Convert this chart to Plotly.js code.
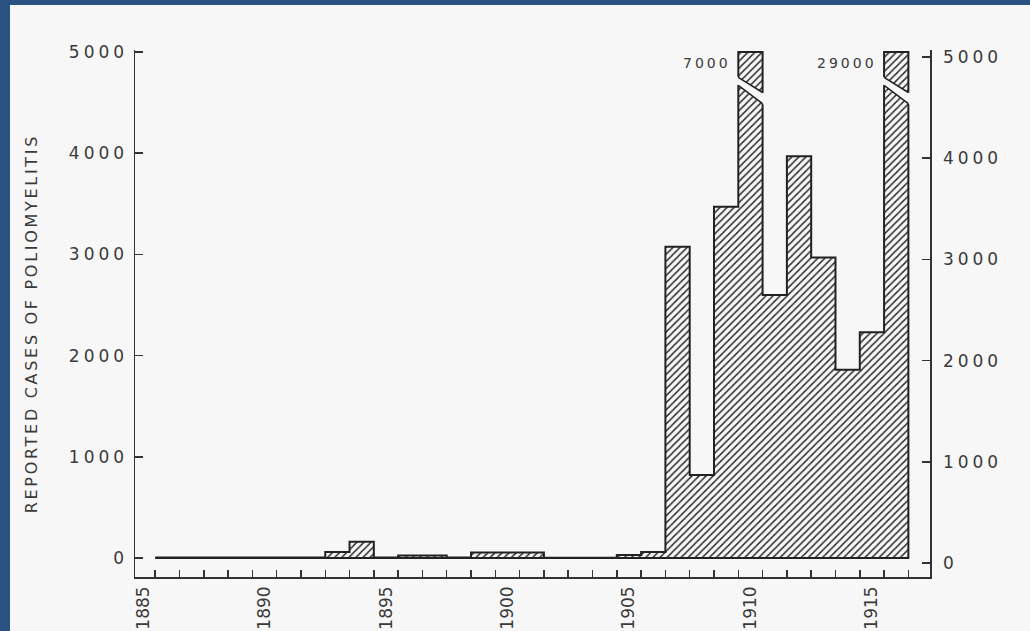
<!DOCTYPE html>
<html><head><meta charset="utf-8">
<script src="https://cdn.plot.ly/plotly-3.0.1.min.js"></script>
<style>
html,body{margin:0;padding:0;width:1030px;height:631px;overflow:hidden;background:#2b5382;}
#chart{position:absolute;left:10px;top:5px;width:1020px;height:626px;background:#f7f7f7;}
.ytick text, .y2tick text{letter-spacing:4px;}
.annotation-text{letter-spacing:3px;}
.annotation[data-index="0"] .annotation-text{letter-spacing:2.7px;}
</style></head><body><div id="chart"></div>
<script>
// ---- data ----
const years = [1886,1887,1888,1889,1890,1891,1892,1893,1894,1895,1896,1897,1898,1899,1900,1901,1902,1903,1904,1905,1906,1907,1908,1909,1910,1911,1912,1913,1914,1915,1916];
const cases = [5,5,5,5,5,5,5,60,160,5,25,25,5,55,55,55,2,2,2,30,60,3075,820,3470,7000,2600,3970,2970,1860,2230,29000];
const yTickVals = [0,1000,2000,3000,4000,5000];
const yTickText = ['0','1000','2000','3000','4000','5000'];
const xLabelYears = [1885,1890,1895,1900,1905,1910,1915];
const xLabelText = ['1885','1890','1895','1900','1905','1910','1915'];
const axisTitle = 'REPORTED CASES OF POLIOMYELITIS';
const CAP = 5000;                 // scale top; bars above it are drawn broken
const BREAK_UPPER = [4750, 4600]; // break band upper edge (left, right)
const BREAK_LOWER = [4670, 4490]; // break band lower edge (left, right)
const LABEL_Y = 4890;

const font = 'DejaVu Sans';
const ink = '#3a3a3a';
const paper = '#f7f7f7';

const shown = cases.map(v => Math.min(v, CAP));
const edges = years.map(y => y - 0.5).concat([years[years.length-1] + 0.5]);

// step outline of the histogram
const ox = [], oy = [];
shown.forEach((v, i) => { ox.push(edges[i], edges[i+1]); oy.push(v, v); });
ox.push(edges[edges.length-1], edges[0]); oy.push(0, 0);

const xRange = [1884.67, 1917.39];

const shapes = [], annotations = [];
annotations.push({
  xref:'paper', yref:'paper', x:-0.1296, y:0.482, xanchor:'center', yanchor:'middle',
  text: axisTitle, textangle:-90, showarrow:false,
  font:{family:font, size:16, color:ink}
});
years.forEach((y, i) => {
  if (cases[i] <= CAP) return;
  const x0 = y - 0.5, x1 = y + 0.5, e = 0.12;
  const su = (BREAK_UPPER[1]-BREAK_UPPER[0]), sl = (BREAK_LOWER[1]-BREAK_LOWER[0]);
  shapes.push({type:'path', xref:'x', yref:'y', layer:'above', line:{width:0}, fillcolor:paper,
    path:`M ${x0-e},${BREAK_UPPER[0]-su*e} L ${x1+e},${BREAK_UPPER[1]+su*e} L ${x1+e},${BREAK_LOWER[1]+sl*e} L ${x0-e},${BREAK_LOWER[0]-sl*e} Z`});
  shapes.push({type:'line', xref:'x', yref:'y', x0:x0, x1:x1, y0:BREAK_UPPER[0], y1:BREAK_UPPER[1], line:{color:'#222', width:1.5}});
  shapes.push({type:'line', xref:'x', yref:'y', x0:x0, x1:x1, y0:BREAK_LOWER[0], y1:BREAK_LOWER[1], line:{color:'#222', width:1.5}});
  annotations.push({xref:'x', yref:'y', x:x0, y:LABEL_Y, xanchor:'right', yanchor:'middle', xshift:-5,
    text:String(cases[i]), showarrow:false, font:{family:font, size:14, color:ink}});
});

const traces = [
  {type:'bar', x:years, y:shown, width:1, hoverinfo:'skip',
   marker:{color:paper, line:{width:0}, pattern:{shape:'/', fgcolor:'#2e2e2e', bgcolor:paper, size:5, solidity:0.3}}},
  {type:'scatter', mode:'lines', x:ox, y:oy, hoverinfo:'skip', line:{color:'#222', width:2}},
  {type:'scatter', mode:'lines', x:[], y:[], xaxis:'x2', yaxis:'y', hoverinfo:'skip'},
  {type:'scatter', mode:'lines', x:[], y:[], xaxis:'x', yaxis:'y2', hoverinfo:'skip'}
];

const axBase = {showgrid:false, zeroline:false, fixedrange:true};
const layout = {
  width:1020, height:626, margin:{l:125, r:100, t:45, b:54},
  paper_bgcolor:paper, plot_bgcolor:paper, showlegend:false, bargap:0,
  xaxis:Object.assign({}, axBase, {range:xRange, tickmode:'array', tickvals:edges, ticks:'inside', ticklen:7, tickwidth:1.5, tickcolor:'#333',
    showticklabels:false, showline:true, linecolor:'#333', linewidth:1.5}),
  xaxis2:Object.assign({}, axBase, {overlaying:'x', anchor:'y', side:'bottom', range:xRange, tickmode:'array', tickvals:xLabelYears, ticktext:xLabelText,
    ticks:'', tickangle:-90, showline:false, ticklabelstandoff:5, tickfont:{family:font, size:17, color:ink}}),
  yaxis:Object.assign({}, axBase, {range:[-188, 5020], tickmode:'array', tickvals:yTickVals, ticktext:yTickText, ticks:'inside', ticklen:8, tickwidth:1.5, tickcolor:'#333',
    showline:true, linecolor:'#333', linewidth:1.5, ticklabelstandoff:2, tickfont:{family:font, size:17, color:ink}}),
  yaxis2:Object.assign({}, axBase, {overlaying:'y', side:'right', anchor:'x', range:[-138, 5069], tickmode:'array', tickvals:yTickVals, ticktext:yTickText,
    ticks:'inside', ticklen:8, tickwidth:1.5, tickcolor:'#333', showline:true, linecolor:'#333', linewidth:1.5, ticklabelstandoff:8,
    tickfont:{family:font, size:17, color:ink}}),
  shapes:shapes, annotations:annotations
};
Plotly.newPlot('chart', traces, layout, {displayModeBar:false, staticPlot:true});
</script></body></html>
